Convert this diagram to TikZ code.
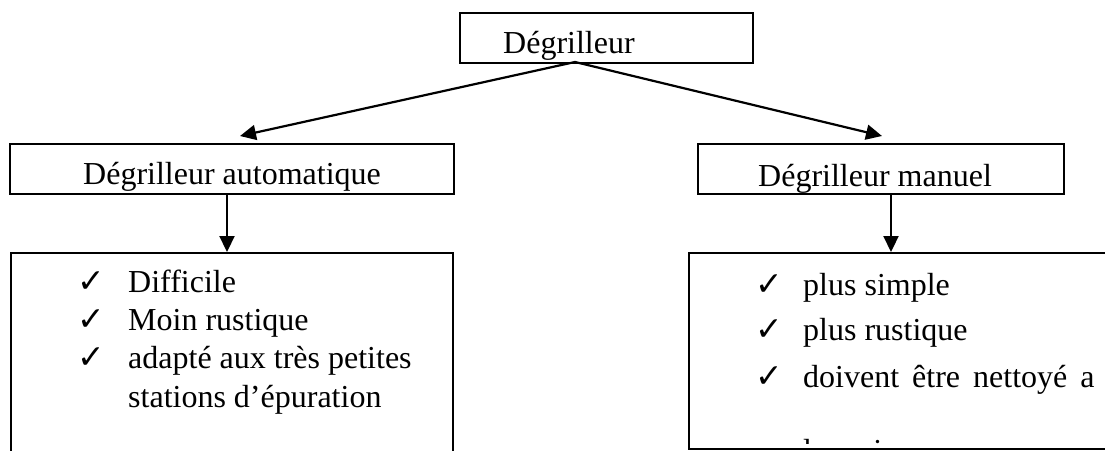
\documentclass[tikz,border=0pt]{standalone}
\usepackage{fontspec}
\setmainfont{Liberation Serif}
\newfontfamily\symfont{DejaVu Sans}
\usetikzlibrary{arrows.meta}
\begin{document}
\begin{tikzpicture}[x=1pt,y=-1pt,
  box/.style={draw,line width=1.6pt,inner sep=0pt,anchor=north west},
  arr/.style={line width=2.2pt,-{Triangle[length=16pt,width=15pt]}},
  txt/.style={anchor=base west,inner sep=0pt,font=\fontsize{32}{38}\selectfont},
  chk/.style={anchor=base west,inner sep=0pt,font=\symfont\bfseries\fontsize{33}{36}\selectfont}]
\useasboundingbox (0,0) rectangle (1105,450);
% boxes
\node[box,minimum width=293pt,minimum height=50pt] (top) at (459,12) {};
\node[box,minimum width=444pt,minimum height=50pt] (midL) at (9,143) {};
\node[box,minimum width=366pt,minimum height=50pt] (midR) at (697,143) {};
\node[box,minimum width=442pt,minimum height=210pt] (lowL) at (10,252) {};
\node[box,minimum width=422pt,minimum height=196pt] (lowR) at (688,252) {};
% texts (clipped by their boxes)
\begin{scope}
  \clip (top.north west) rectangle (top.south east);
  \node[txt] (ttop) at (503,53) {Dégrilleur};
\end{scope}
\begin{scope}
  \clip (midL.north west) rectangle (midL.south east);
  \node[txt] (tmidL) at (83,184) {Dégrilleur automatique};
\end{scope}
\begin{scope}
  \clip (midR.north west) rectangle (midR.south east);
  \node[txt] (tmidR) at (758,186) {Dégrilleur manuel};
\end{scope}
% left list
\node[chk] (cL1) at (77,292) {✓};
\node[txt] (l1) at (128,292) {Difficile};
\node[chk] (cL2) at (77,330) {✓};
\node[txt] (l2) at (128,330) {Moin rustique};
\node[chk] (cL3) at (77,368) {✓};
\node[txt] (l3) at (128,368) {adapté aux très petites};
\node[txt] (l4) at (128,407) {stations d’épuration};
% right list
\node[chk] (cR1) at (755,295) {✓};
\node[txt] (r1) at (803,295) {plus simple};
\node[chk] (cR2) at (755,340) {✓};
\node[txt] (r2) at (803,340) {plus rustique};
\node[chk] (cR3) at (755,387) {✓};
\node[txt] (r3) at (803,387) {doivent\hspace{5pt} être\hspace{5pt} nettoyé\hspace{5pt} a};
\begin{scope}
  \clip (690,254) rectangle (1105,443);
  \node[txt] (r4) at (803,461) {la main};
\end{scope}
% connectors
\coordinate (apex) at (575,62);
\coordinate (tipL) at (240,136);
\coordinate (tipR) at (882,136);
\draw[arr] (apex) -- (tipL);
\draw[arr] (apex) -- (tipR);
\coordinate (vL) at (227,193);
\coordinate (vR) at (891,193);
\draw[arr] (vL) -- (vL |- lowL.north);
\draw[arr] (vR) -- (vR |- lowR.north);
\end{tikzpicture}
\end{document}
